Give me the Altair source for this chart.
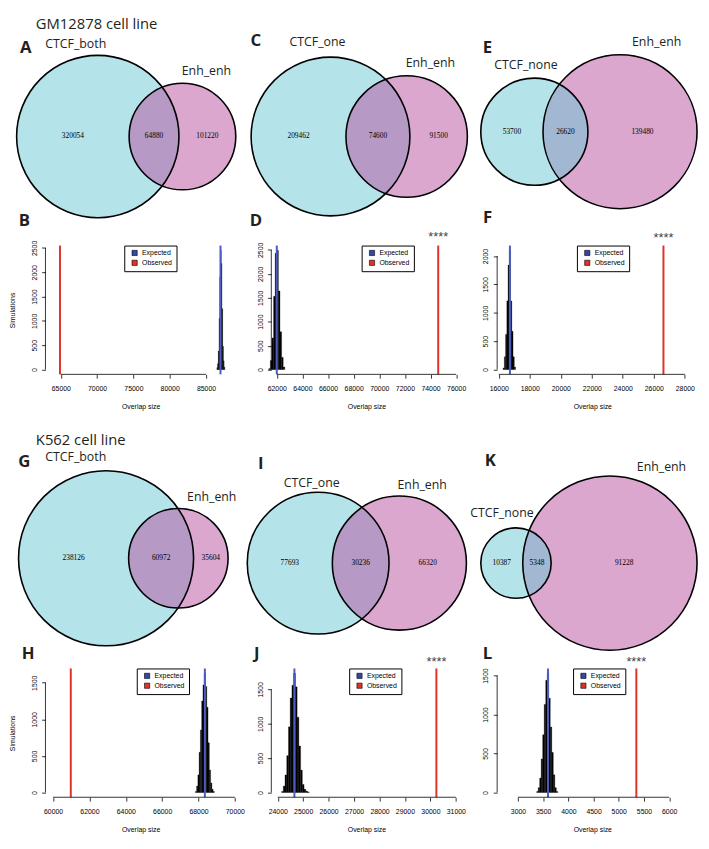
import math
import pandas as pd
import altair as alt

# ---------------- layout constants (reference pixels, scaled by S) ----------------
S = 0.975
W_COL = 198
COL_LEFT = [32, 266, 500]
ROW_TOP = [20, 243, 372, 681]
ROW_H = [218, 134, 305, 134]
COL_GAP = 36

SANS = "Open Sans"
RFONT = "Liberation Sans"
SERIF = "Liberation Serif"
CYAN = "#b4e3ea"
PINK = "#dba7ce"
CYAN_TOP = "#69c7d5"
PINK_TOP = "#b74f9d"
BLUE = "#4b5cc4"
BLUE_KEY = "#3446a8"
RED = "#e03226"
INK = "#231f20"

# ---------------- data ----------------
# Venn counts: [left only, overlap, right only]
venn_A = [320054, 64880, 101220]
venn_C = [209462, 74600, 91500]
venn_E = [53700, 26620, 139480]
venn_G = [238126, 60972, 35604]
venn_I = [77693, 30236, 66320]
venn_K = [10387, 5348, 91228]
left_sets = ["CTCF_both", "CTCF_one", "CTCF_none"]
right_set = "Enh_enh"

# Permutation histograms (bin start, bin width, counts) + expected / observed overlap
hist_B_start, hist_B_bw = 86500, 100
hist_B_counts = [40, 120, 380, 1050, 1900, 2450, 2180, 1250, 480, 180, 50]
hist_D_start, hist_D_bw = 61375, 125
hist_D_counts = [20, 190, 660, 1530, 2430, 2490, 1640, 790, 255, 55]
hist_F_start, hist_F_bw = 16280, 80
hist_F_counts = [28, 225, 620, 1210, 1840, 2100, 1210, 675, 225, 45]
hist_H_start, hist_H_bw = 67825, 70
hist_H_counts = [13, 88, 240, 550, 855, 1250, 1470, 1630, 1450, 1165, 680, 307, 130, 44, 13]
hist_J_start, hist_J_bw = 24150, 68
hist_J_counts = [14, 93, 256, 536, 955, 1374, 1560, 1735, 1537, 1095, 676, 326, 117, 47, 20, 8]
hist_L_start, hist_L_bw = 3370, 30
hist_L_counts = [12, 62, 185, 431, 740, 1130, 1440, 1530, 1210, 840, 514, 226, 62, 12]

expected = {"B": 87000, "D": 62000, "F": 16720, "H": 68350, "J": 24655, "L": 3595}
observed = {"B": 64880, "D": 74600, "F": 26620, "H": 60972, "J": 30236, "L": 5348}

xdom = {"B": [62881, 89106], "D": [61572, 76426], "F": [15895, 28167],
        "H": [59579, 70050], "J": [23747, 31227], "L": [2586, 6362]}
xticks = {"B": [65000, 70000, 75000, 80000, 85000],
          "D": [62000, 64000, 66000, 68000, 70000, 72000, 74000, 76000],
          "F": [16000, 18000, 20000, 22000, 24000, 26000, 28000],
          "H": [60000, 62000, 64000, 66000, 68000, 70000],
          "J": [24000, 25000, 26000, 27000, 28000, 29000, 30000, 31000],
          "L": [3000, 3500, 4000, 4500, 5000, 5500, 6000]}
yticks = {"B": [0, 500, 1000, 1500, 2000, 2500], "D": [0, 500, 1000, 1500, 2000, 2500],
          "F": [0, 500, 1000, 1500, 2000], "H": [0, 500, 1000, 1500],
          "J": [0, 500, 1000, 1500], "L": [0, 500, 1000, 1500]}

DUMMY = pd.DataFrame({"k": [0]})


def txt(s, x, y, size, weight="normal", font=SANS, align="center", color=INK):
    return alt.Chart(DUMMY).mark_text(
        text=s, fontSize=size, fontWeight=weight, font=font, align=align,
        baseline="middle", color=color
    ).encode(x=alt.value(x * S), y=alt.value(y * S))


def lens_area(d, r1, r2):
    if d >= r1 + r2:
        return 0.0
    if d <= abs(r1 - r2):
        return math.pi * min(r1, r2) ** 2
    a1 = r1 * r1 * math.acos((d * d + r1 * r1 - r2 * r2) / (2 * d * r1))
    a2 = r2 * r2 * math.acos((d * d + r2 * r2 - r1 * r1) / (2 * d * r2))
    a3 = 0.5 * math.sqrt((-d + r1 + r2) * (d + r1 - r2) * (d - r1 + r2) * (d + r1 + r2))
    return a1 + a2 - a3


def solve_distance(r1, r2, ov):
    target = math.pi * ov
    lo, hi = abs(r1 - r2) + 1e-9, r1 + r2
    for _ in range(200):
        mid = (lo + hi) / 2
        if lens_area(mid, r1, r2) > target:
            lo = mid
        else:
            hi = mid
    return (lo + hi) / 2


def venn_panel(counts, left_name, col, row, XL, XR, YC, cyan_top, letter, letter_xy,
               left_xy, right_xy, title=None):
    cl, rt = COL_LEFT[col], ROW_TOP[row]
    n1 = counts[0] + counts[1]
    n2 = counts[1] + counts[2]
    r1, r2 = math.sqrt(n1), math.sqrt(n2)
    d = solve_distance(r1, r2, counts[1])
    lo_u, hi_u = -r1, d + r2
    ppu = (XR - XL) * S / (hi_u - lo_u)
    Wp, Hp = W_COL * S, ROW_H[row] * S
    xmin = lo_u - (XL - cl) * S / ppu
    xmax = xmin + Wp / ppu
    ymax = (YC - rt) * S / ppu
    ymin = ymax - Hp / ppu
    nmax = max(n1, n2)
    xs = alt.Scale(domain=[xmin, xmax], nice=False, zero=False)
    ys = alt.Scale(domain=[ymin, ymax], nice=False, zero=False)
    # Vega circle symbol: radius = sqrt(size) / 2  ->  size = 4 * (radius in px)^2
    ss = alt.Scale(type="linear", domain=[0, nmax], range=[0, 4 * nmax * ppu * ppu],
                   nice=False)

    circles = pd.DataFrame({"set": [left_name, right_set], "cx": [0.0, d],
                            "cy": [0.0, 0.0], "n": [n1, n2]})

    def enc(ch):
        return ch.encode(
            x=alt.X("cx:Q", scale=xs, axis=None),
            y=alt.Y("cy:Q", scale=ys, axis=None),
            size=alt.Size("n:Q", scale=ss, legend=None),
        )

    if cyan_top:
        base = enc(alt.Chart(circles.iloc[[1]]).mark_point(
            shape="circle", filled=True, color=PINK, opacity=1, strokeWidth=0))
        top = enc(alt.Chart(circles.iloc[[0]]).mark_point(
            shape="circle", filled=True, color=CYAN_TOP, opacity=0.5, strokeWidth=0))
    else:
        base = enc(alt.Chart(circles.iloc[[0]]).mark_point(
            shape="circle", filled=True, color=CYAN, opacity=1, strokeWidth=0))
        top = enc(alt.Chart(circles.iloc[[1]]).mark_point(
            shape="circle", filled=True, color=PINK_TOP, opacity=0.5, strokeWidth=0))
    outline = enc(alt.Chart(circles).mark_point(
        shape="circle", filled=False, color="black", opacity=1, strokeWidth=1.6))

    lab = pd.DataFrame({
        "lx": [(-r1 + (d - r2)) / 2, ((d - r2) + r1) / 2, (r1 + d + r2) / 2],
        "ly": [0.0, 0.0, 0.0],
        "t": [str(c) for c in counts],
    })
    numbers = alt.Chart(lab).mark_text(font=SERIF, fontSize=7.5, color="black").encode(
        x=alt.X("lx:Q", scale=xs, axis=None), y=alt.Y("ly:Q", scale=ys, axis=None), text="t:N")

    layers = [base, top, outline, numbers,
              txt(left_name, left_xy[0] - cl, left_xy[1] - rt, 12.5),
              txt(right_set, right_xy[0] - cl, right_xy[1] - rt, 12.5),
              txt(letter, letter_xy[0] - cl, letter_xy[1] - rt, 17, weight="bold")]
    if title is not None:
        layers.append(txt(title[0], title[1] - cl, title[2] - rt, 15, align="left"))
    return alt.layer(*layers).properties(width=W_COL * S, height=ROW_H[row] * S)


def hist_panel(key, start, bw, counts, col, row, letter_xy, legend_xy, stars_y=None,
               ytitle=False):
    cl, rt = COL_LEFT[col], ROW_TOP[row]
    Hp = ROW_H[row] * S
    m = max(counts)
    xs = alt.Scale(domain=xdom[key], nice=False, zero=False)
    ys = alt.Scale(domain=[-0.04 * m, 1.04 * m], nice=False, zero=False)
    xaxis = alt.Axis(values=xticks[key], format="d", title="Overlap size",
                     labelPadding=6.5 * S, titlePadding=12 * S)
    yaxis = alt.Axis(values=yticks[key], labelAngle=270, format="d", titlePadding=16 * S,
                     title="Simulations" if ytitle else "")
    dfh = pd.DataFrame({
        "start": [start + i * bw for i in range(len(counts))],
        "end": [start + (i + 1) * bw for i in range(len(counts))],
        "count": counts,
        "zero": [0] * len(counts),
    })
    bars = alt.Chart(dfh).mark_bar(color="black", stroke="black", strokeWidth=0.3).encode(
        x=alt.X("start:Q", scale=xs, axis=xaxis),
        x2="end:Q",
        y=alt.Y("count:Q", scale=ys, axis=yaxis),
        y2="zero:Q",
    )
    exp_rule = alt.Chart(pd.DataFrame({"v": [expected[key]]})).mark_rule(
        color=BLUE, strokeWidth=2).encode(x=alt.X("v:Q", scale=xs, axis=xaxis))
    obs_rule = alt.Chart(pd.DataFrame({"v": [observed[key]]})).mark_rule(
        color=RED, strokeWidth=2).encode(x=alt.X("v:Q", scale=xs, axis=xaxis))
    key_df = pd.DataFrame({"label": ["Expected", "Observed"],
                           "v": [expected[key], observed[key]]})
    legend_layer = alt.Chart(key_df).mark_point(
        shape="square", filled=True, opacity=0, size=10).encode(
        x=alt.X("v:Q", scale=xs, axis=xaxis),
        color=alt.Color("label:N",
                        scale=alt.Scale(domain=["Expected", "Observed"], range=[BLUE_KEY, RED]),
                        legend=alt.Legend(
                            title=None, orient="none",
                            legendX=(legend_xy[0] - cl) * S, legendY=(legend_xy[1] - rt) * S,
                            symbolType="square", symbolSize=28, symbolStrokeColor="black",
                            symbolStrokeWidth=0.6, symbolOpacity=1, symbolOffset=3,
                            labelFont=RFONT, labelFontSize=7, labelColor="black",
                            labelOffset=4, strokeColor="black", fillColor="white",
                            padding=4, rowPadding=1, offset=0)),
    )
    xline = alt.Chart(pd.DataFrame({"a": [xticks[key][0]], "b": [xticks[key][-1]]})).mark_rule(
        color="black", strokeWidth=0.8).encode(
        x=alt.X("a:Q", scale=xs, axis=xaxis), x2="b:Q", y=alt.value(Hp))
    yline = alt.Chart(pd.DataFrame({"a": [yticks[key][0]], "b": [yticks[key][-1]]})).mark_rule(
        color="black", strokeWidth=0.8).encode(
        y=alt.Y("a:Q", scale=ys, axis=yaxis), y2="b:Q", x=alt.value(0))
    layers = [bars, exp_rule, obs_rule, legend_layer, xline, yline,
              txt(key, letter_xy[0] - cl, letter_xy[1] - rt, 17, weight="bold")]
    if stars_y is not None:
        layers.append(alt.Chart(pd.DataFrame({"v": [observed[key]]})).mark_text(
            text="****", font=RFONT, fontSize=13, color="#444444", baseline="middle").encode(
            x=alt.X("v:Q", scale=xs, axis=xaxis), y=alt.value((stars_y - rt) * S)))
    return alt.layer(*layers).properties(width=W_COL * S, height=Hp)


pA = venn_panel(venn_A, left_sets[0], 0, 0, 2, 230, 125, False, "A", (11.5, 32.5),
                (63.5, 29), (199.5, 57), title=("GM12878 cell line", 22, 8))
pC = venn_panel(venn_C, left_sets[1], 1, 0, 245, 470, 125, False, "C", (250, 26),
                (314, 27), (431.5, 49))
pE = venn_panel(venn_E, left_sets[2], 2, 0, 483, 708, 120, True, "E", (490, 32.5),
                (530, 50.5), (666, 26.5))
pG = venn_panel(venn_G, left_sets[0], 0, 2, 4, 222, 563, False, "G", (10, 463),
                (63.5, 458), (205, 499), title=("K562 cell line", 22, 440))
pI = venn_panel(venn_I, left_sets[1], 1, 2, 241, 469, 568, False, "I", (255, 465),
                (308, 485), (423, 487))
pK = venn_panel(venn_K, left_sets[2], 2, 2, 483, 708, 568, True, "K", (493, 462),
                (505, 516), (671, 468))

pB = hist_panel("B", hist_B_start, hist_B_bw, hist_B_counts, 0, 1, (10, 217), (114, 243),
                ytitle=True)
pD = hist_panel("D", hist_D_start, hist_D_bw, hist_D_counts, 1, 1, (250, 218), (360, 243),
                stars_y=234)
pF = hist_panel("F", hist_F_start, hist_F_bw, hist_F_counts, 2, 1, (490, 214), (583, 243),
                stars_y=235)
pH = hist_panel("H", hist_H_start, hist_H_bw, hist_H_counts, 0, 3, (14, 666), (127, 681),
                ytitle=True)
pJ = hist_panel("J", hist_J_start, hist_J_bw, hist_J_counts, 1, 3, (251, 666), (347, 681),
                stars_y=674)
pL = hist_panel("L", hist_L_start, hist_L_bw, hist_L_counts, 2, 3, (490, 666), (579, 681),
                stars_y=674)

chart = alt.concat(
    pA, pC, pE, pB, pD, pF, pG, pI, pK, pH, pJ, pL,
    columns=3, spacing={"row": 0, "column": COL_GAP * S}, bounds="flush",
).resolve_scale(
    x="independent", y="independent", size="independent", color="independent"
).resolve_legend(color="independent").properties(
    padding={"top": 3, "left": 0, "right": 0, "bottom": 0}
).configure_view(
    stroke=None
).configure_axis(
    labelFont=RFONT, titleFont=RFONT, labelFontSize=7, titleFontSize=7,
    titleFontWeight="normal", labelColor="black", titleColor="black",
    tickColor="black", tickWidth=0.8, tickSize=4 * S, domain=False, grid=False,
    labelPadding=4.5 * S, titlePadding=9 * S, labelFlush=False, labelOverlap=False,
)

chart.save("out.html", embed_options={"renderer": "svg", "actions": False})
